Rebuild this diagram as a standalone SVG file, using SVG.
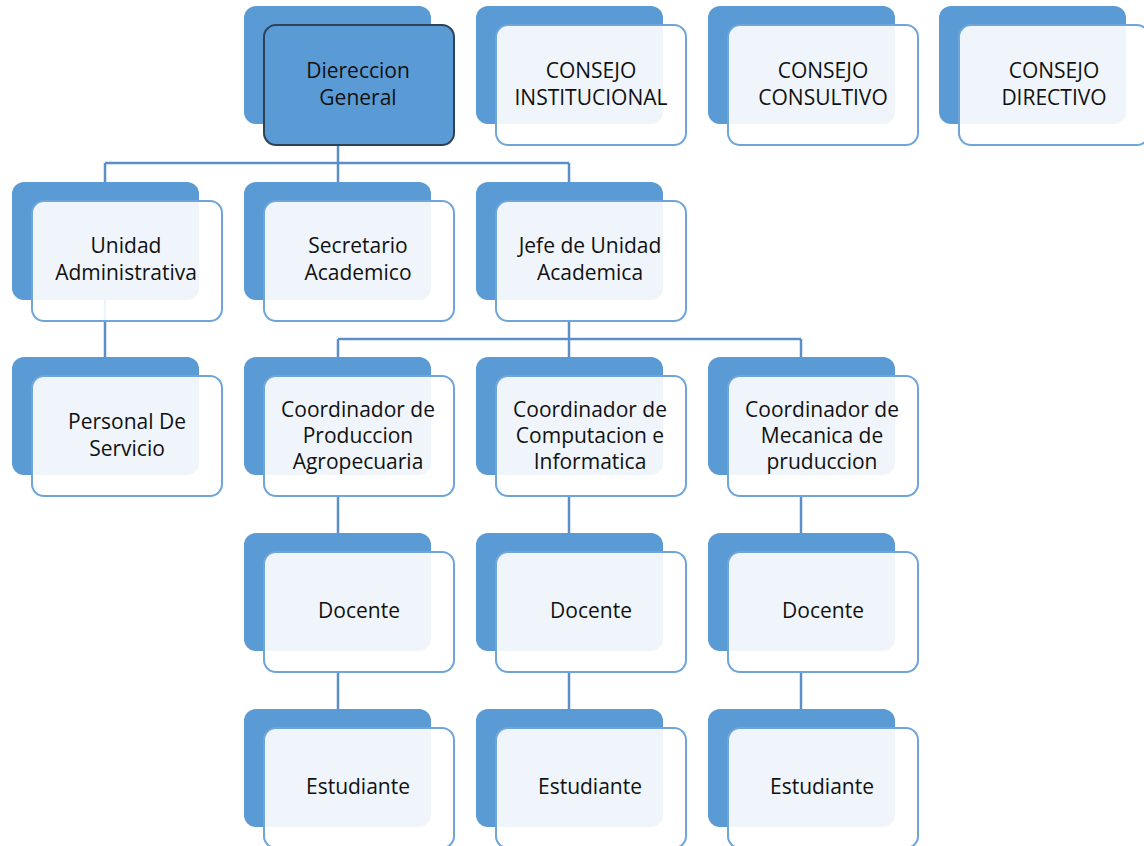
<svg xmlns="http://www.w3.org/2000/svg" width="1144" height="846" viewBox="0 0 1144 846">
<style>
.bk{fill:#5B9BD5}
.fr{fill:#FFFFFF;fill-opacity:0.9;stroke:#6FA6DA;stroke-width:2}
.frd{fill:#5B9BD5;stroke:#2E4256;stroke-width:2}
.ln{fill:none;stroke:#5A8FCB;stroke-width:2.5}
text{font-family:"Open Sans","Noto Sans",sans-serif;font-size:21px;fill:#111111;text-anchor:middle}
</style>
<rect width="1144" height="846" fill="#FFFFFF"/>
<g id="connectors">
<path class="ln" d="M338 145V163M105 163H569M105 163V182M338 163V182M569 163V182"/>
<path class="ln" d="M105 300V357"/>
<path class="ln" d="M569 321V339M338 339H801M338 339V357M569 339V357M801 339V357"/>
<path class="ln" d="M338 497V533M569 497V533M801 497V533"/>
<path class="ln" d="M338 672V709M569 672V709M801 672V709"/>
</g>
<g id="n-direccion"><rect class="bk" x="244" y="6" width="187" height="118" rx="12"/><rect class="frd" x="264" y="25" width="190" height="120" rx="12"/><text x="358" y="78">Diereccion</text><text x="358" y="105">General</text></g>
<g id="n-institucional"><rect class="bk" x="476" y="6" width="187" height="118" rx="12"/><rect class="fr" x="496" y="25" width="190" height="120" rx="12"/><text x="591" y="78">CONSEJO</text><text x="591" y="105">INSTITUCIONAL</text></g>
<g id="n-consultivo"><rect class="bk" x="708" y="6" width="187" height="118" rx="12"/><rect class="fr" x="728" y="25" width="190" height="120" rx="12"/><text x="823" y="78">CONSEJO</text><text x="823" y="105">CONSULTIVO</text></g>
<g id="n-directivo"><rect class="bk" x="939" y="6" width="187" height="118" rx="12"/><rect class="fr" x="959" y="25" width="190" height="120" rx="12"/><text x="1054" y="78">CONSEJO</text><text x="1054" y="105">DIRECTIVO</text></g>
<g id="n-unidad"><rect class="bk" x="12" y="182" width="187" height="118" rx="12"/><rect class="fr" x="32" y="201" width="190" height="120" rx="12"/><text x="126" y="253">Unidad</text><text x="126" y="280">Administrativa</text></g>
<g id="n-secretario"><rect class="bk" x="244" y="182" width="187" height="118" rx="12"/><rect class="fr" x="264" y="201" width="190" height="120" rx="12"/><text x="358" y="253">Secretario</text><text x="358" y="280">Academico</text></g>
<g id="n-jefe"><rect class="bk" x="476" y="182" width="187" height="118" rx="12"/><rect class="fr" x="496" y="201" width="190" height="120" rx="12"/><text x="590" y="253">Jefe de Unidad</text><text x="590" y="280">Academica</text></g>
<g id="n-personal"><rect class="bk" x="12" y="357" width="187" height="118" rx="12"/><rect class="fr" x="32" y="376" width="190" height="120" rx="12"/><text x="127" y="429">Personal De</text><text x="127" y="456">Servicio</text></g>
<g id="n-coord1"><rect class="bk" x="244" y="357" width="187" height="118" rx="12"/><rect class="fr" x="264" y="376" width="190" height="120" rx="12"/><text x="358" y="417">Coordinador de</text><text x="358" y="443">Produccion</text><text x="358" y="469">Agropecuaria</text></g>
<g id="n-coord2"><rect class="bk" x="476" y="357" width="187" height="118" rx="12"/><rect class="fr" x="496" y="376" width="190" height="120" rx="12"/><text x="590" y="417">Coordinador de</text><text x="590" y="443">Computacion e</text><text x="590" y="469">Informatica</text></g>
<g id="n-coord3"><rect class="bk" x="708" y="357" width="187" height="118" rx="12"/><rect class="fr" x="728" y="376" width="190" height="120" rx="12"/><text x="822" y="417">Coordinador de</text><text x="822" y="443">Mecanica de</text><text x="822" y="469">pruduccion</text></g>
<g id="n-docente1"><rect class="bk" x="244" y="533" width="187" height="118" rx="12"/><rect class="fr" x="264" y="552" width="190" height="120" rx="12"/><text x="359" y="618">Docente</text></g>
<g id="n-docente2"><rect class="bk" x="476" y="533" width="187" height="118" rx="12"/><rect class="fr" x="496" y="552" width="190" height="120" rx="12"/><text x="591" y="618">Docente</text></g>
<g id="n-docente3"><rect class="bk" x="708" y="533" width="187" height="118" rx="12"/><rect class="fr" x="728" y="552" width="190" height="120" rx="12"/><text x="823" y="618">Docente</text></g>
<g id="n-estudiante1"><rect class="bk" x="244" y="709" width="187" height="118" rx="12"/><rect class="fr" x="264" y="728" width="190" height="120" rx="12"/><text x="358" y="794">Estudiante</text></g>
<g id="n-estudiante2"><rect class="bk" x="476" y="709" width="187" height="118" rx="12"/><rect class="fr" x="496" y="728" width="190" height="120" rx="12"/><text x="590" y="794">Estudiante</text></g>
<g id="n-estudiante3"><rect class="bk" x="708" y="709" width="187" height="118" rx="12"/><rect class="fr" x="728" y="728" width="190" height="120" rx="12"/><text x="822" y="794">Estudiante</text></g>
</svg>
